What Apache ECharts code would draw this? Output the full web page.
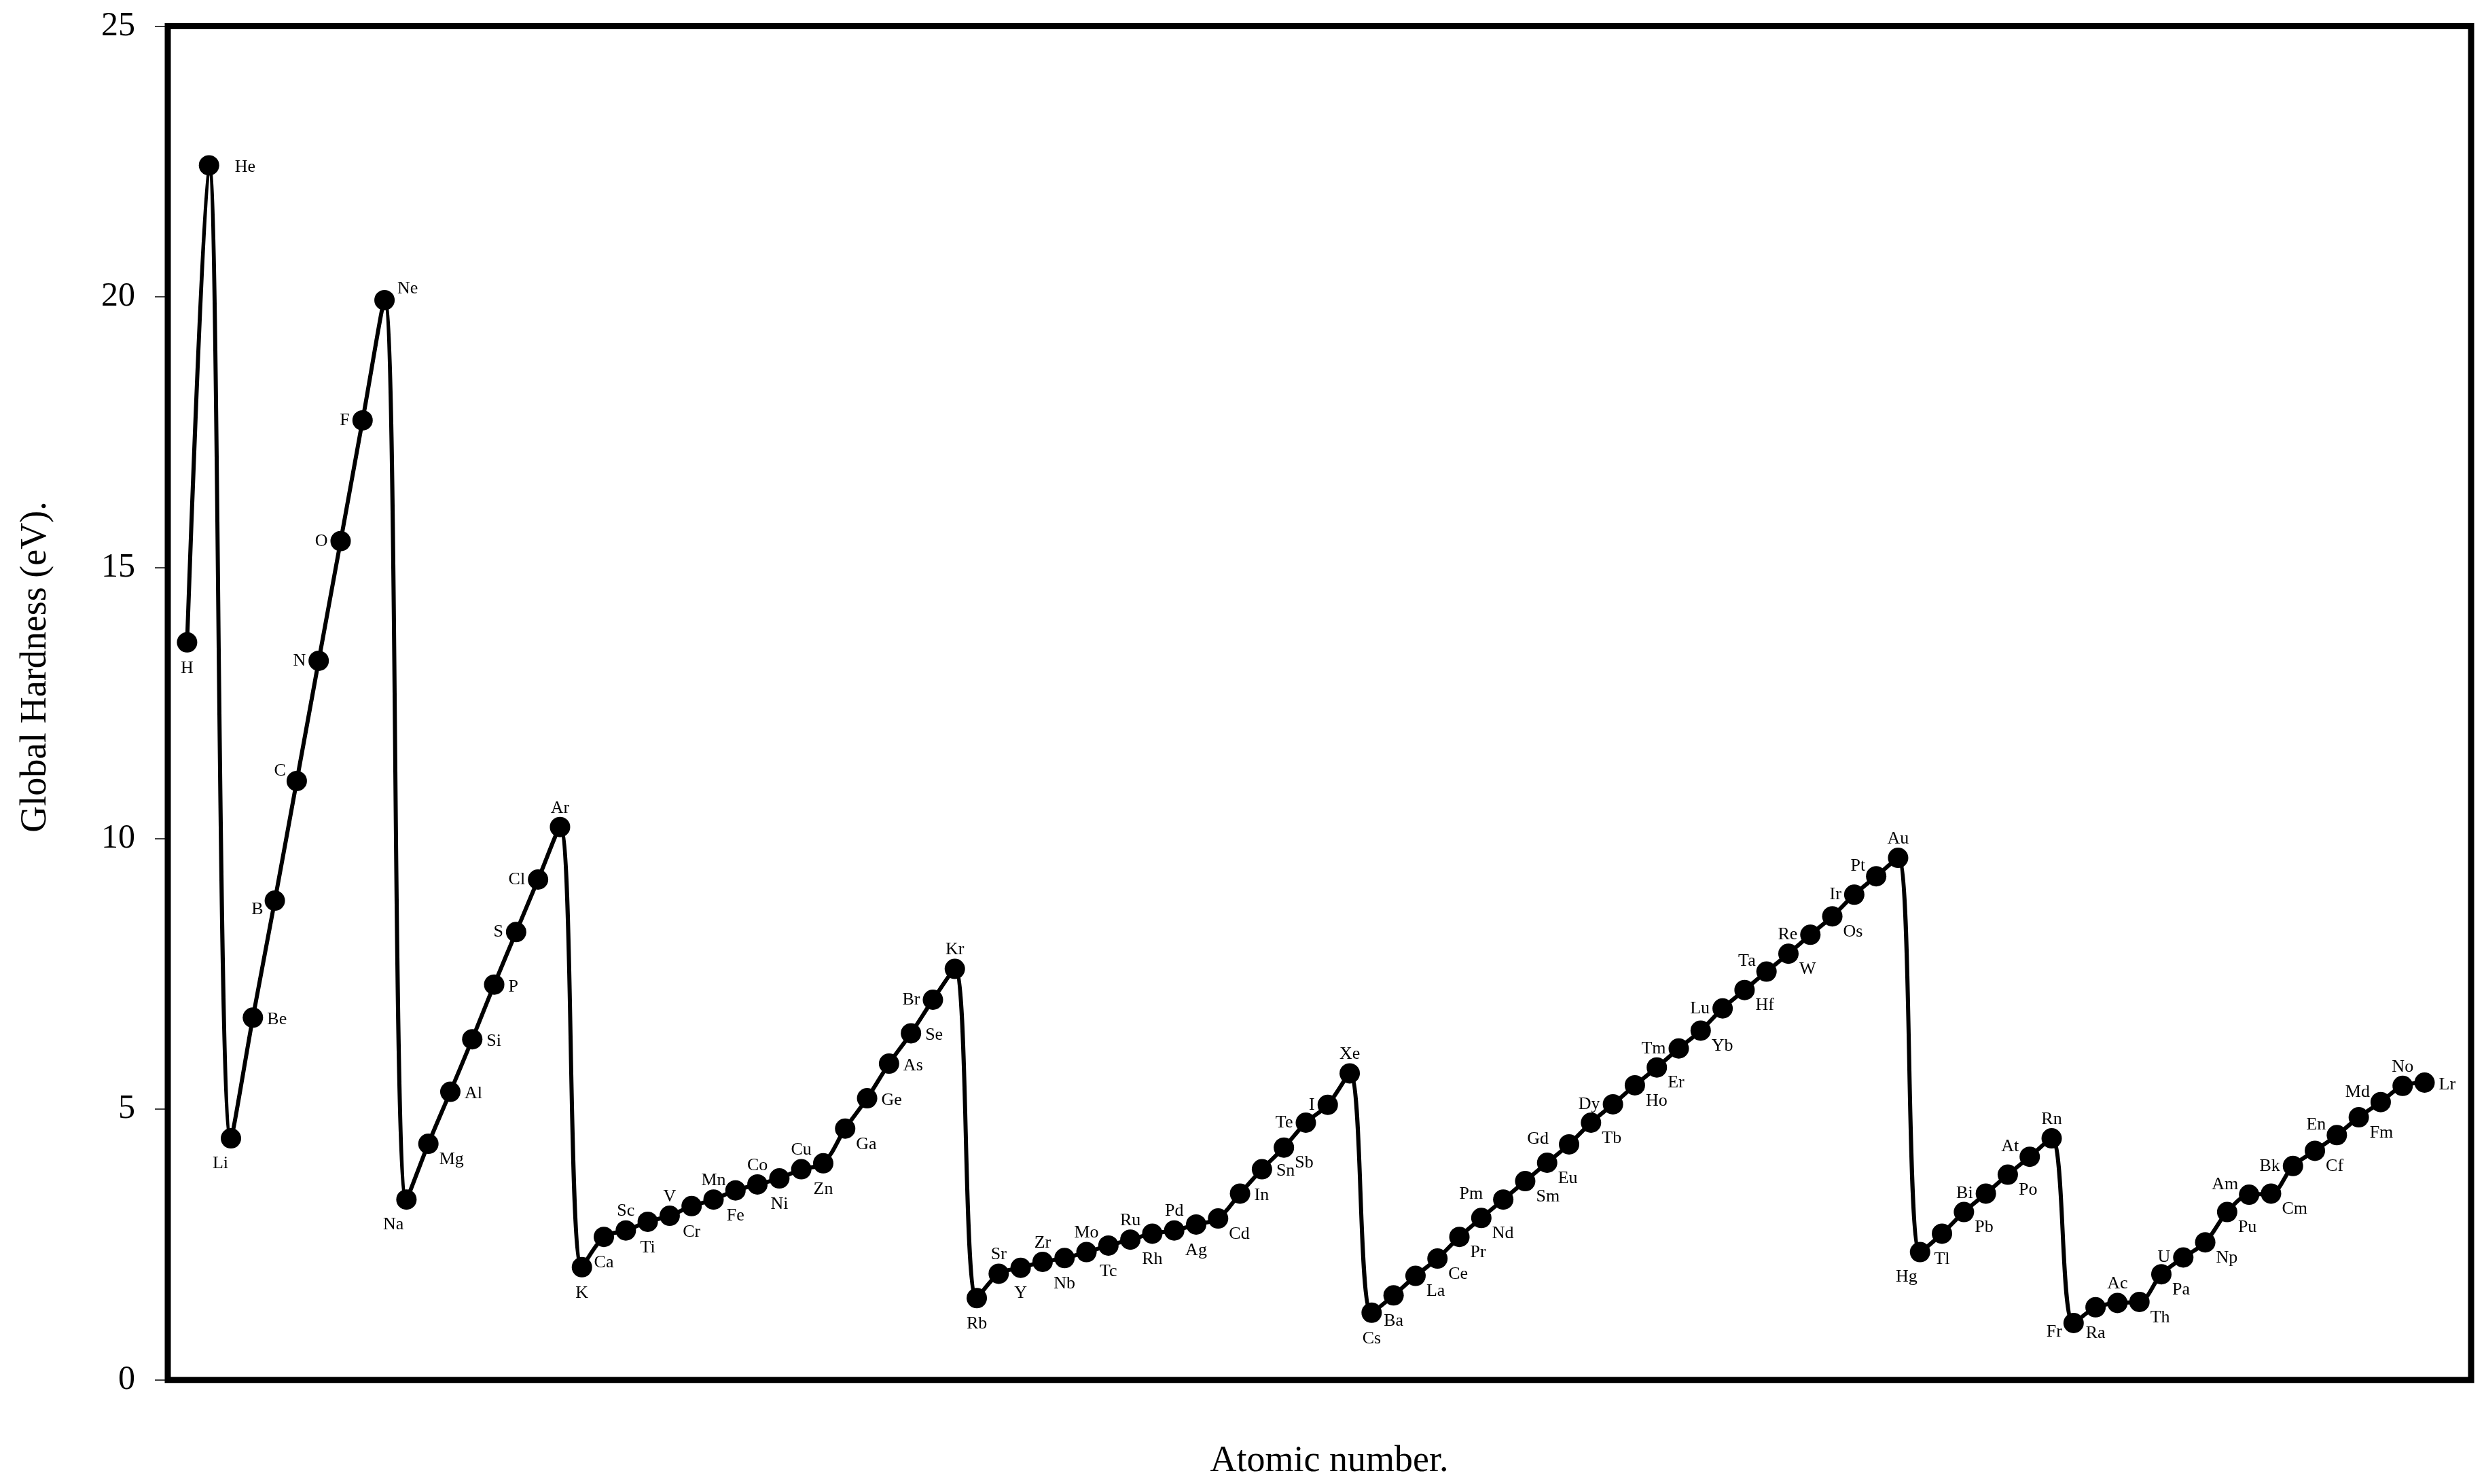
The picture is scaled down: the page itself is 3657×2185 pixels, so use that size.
<!DOCTYPE html>
<html>
<head>
<meta charset="utf-8">
<script src="https://cdn.jsdelivr.net/npm/echarts@6/dist/echarts.min.js"></script>
<style>
html,body{margin:0;padding:0;background:#fff;}
#chart{width:3657px;height:2185px;}
</style>
</head>
<body>
<div id="chart"></div>
<script>
// Element symbols in order of atomic number (as printed in the figure)
const symbols = ['H','He','Li','Be','B','C','N','O','F','Ne',
  'Na','Mg','Al','Si','P','S','Cl','Ar',
  'K','Ca','Sc','Ti','V','Cr','Mn','Fe','Co','Ni','Cu','Zn','Ga','Ge','As','Se','Br','Kr',
  'Rb','Sr','Y','Zr','Nb','Mo','Tc','Ru','Rh','Pd','Ag','Cd','In','Sn','Sb','Te','I','Xe',
  'Cs','Ba','La','Ce','Pr','Nd','Pm','Sm','Eu','Gd','Tb','Dy','Ho','Er','Tm','Yb','Lu',
  'Hf','Ta','W','Re','Os','Ir','Pt','Au','Hg','Tl','Pb','Bi','Po','At','Rn',
  'Fr','Ra','Ac','Th','Pa','U','Np','Pu','Am','Cm','Bk','Cf','En','Fm','Md','No','Lr'];

// Global hardness (eV)
const hardness = [13.62,22.43,4.46,6.69,8.85,11.06,13.28,15.49,17.72,19.94,
  3.33,4.36,5.32,6.29,7.30,8.27,9.24,10.21,
  2.08,2.64,2.76,2.92,3.03,3.21,3.33,3.50,3.61,3.72,3.89,4.00,4.64,5.20,5.84,6.40,7.02,7.59,
  1.51,1.96,2.07,2.18,2.25,2.36,2.48,2.59,2.70,2.76,2.87,2.98,3.44,3.89,4.29,4.75,5.08,5.66,
  1.24,1.56,1.92,2.24,2.64,2.99,3.33,3.67,4.01,4.35,4.75,5.09,5.44,5.77,6.12,6.45,6.86,
  7.20,7.54,7.87,8.22,8.56,8.96,9.30,9.64,2.36,2.70,3.10,3.44,3.79,4.12,4.46,
  1.05,1.34,1.42,1.44,1.95,2.26,2.54,3.10,3.42,3.44,3.95,4.23,4.52,4.85,5.13,5.43,5.49];

// Y axis ticks
const yTicks = [0, 5, 10, 15, 20, 25];

// Which side of its marker each element label sits on (styling only)
const labelSide = {
  H:'b', He:'R', Li:'bl', Be:'r', B:'lb', C:'al', N:'l', O:'l', F:'l', Ne:'ar',
  Na:'bl', Mg:'br', Al:'r', Si:'r', P:'r', S:'l', Cl:'l', Ar:'a',
  K:'b', Ca:'b', Sc:'a', Ti:'b', V:'a', Cr:'b', Mn:'a', Fe:'b', Co:'a', Ni:'b', Cu:'a', Zn:'b',
  Ga:'br', Ge:'r', As:'r', Se:'r', Br:'l', Kr:'a',
  Rb:'b', Sr:'a', Y:'b', Zr:'a', Nb:'b', Mo:'a', Tc:'b', Ru:'a', Rh:'b', Pd:'a', Ag:'b', Cd:'br',
  In:'r', Sn:'r', Sb:'br', Te:'l', I:'l', Xe:'a',
  Cs:'b', Ba:'b', La:'br', Ce:'br', Pr:'br', Nd:'br', Pm:'L', Sm:'br', Eu:'br', Gd:'L', Tb:'br',
  Dy:'l', Ho:'br', Er:'br', Tm:'l', Yb:'br', Lu:'l', Hf:'br', Ta:'al', W:'br', Re:'l', Os:'br',
  Ir:'l', Pt:'al', Au:'a', Hg:'bl', Tl:'b', Pb:'br', Bi:'l', Po:'br', At:'al', Rn:'a',
  Fr:'lb', Ra:'b', Ac:'a', Th:'br', Pa:'br', U:'l', Np:'br', Pu:'br', Am:'al', Cm:'br', Bk:'l',
  Cf:'br', En:'al', Fm:'br', Md:'al', No:'a', Lr:'r'
};

// label anchor (relative to marker centre) and text alignment for each side code
const SIDE_STYLE = {
  a:  {align:'center', verticalAlign:'bottom', d:[0,-15]},
  b:  {align:'center', verticalAlign:'top',    d:[0,25]},
  l:  {align:'right',  verticalAlign:'middle', d:[-19,0]},
  L:  {align:'right',  verticalAlign:'middle', d:[-30,-8]},
  r:  {align:'left',   verticalAlign:'middle', d:[21,3]},
  R:  {align:'left',   verticalAlign:'middle', d:[38,3]},
  br: {align:'left',   verticalAlign:'top',    d:[16,10]},
  bl: {align:'right',  verticalAlign:'top',    d:[-4,24]},
  lb: {align:'right',  verticalAlign:'top',    d:[-17,0]},
  al: {align:'right',  verticalAlign:'bottom', d:[-16,-2]},
  ar: {align:'left',   verticalAlign:'bottom', d:[19,-4]}
};

const FONT = '"Liberation Serif", "Times New Roman", serif';
const SYMBOL_SIZE = 30;
const HALF = SYMBOL_SIZE / 2;

const seriesData = symbols.map((s, i) => {
  const st = SIDE_STYLE[labelSide[s] || 'a'];
  return {
    name: s,
    value: [i + 1, hardness[i]],
    label: {
      show: true, formatter: s,
      position: [HALF + st.d[0], HALF + st.d[1]],
      align: st.align, verticalAlign: st.verticalAlign,
      color: '#000', fontFamily: FONT, fontSize: 26
    }
  };
});

const chart = echarts.init(document.getElementById('chart'), null, {renderer: 'canvas'});
chart.setOption({
  backgroundColor: '#fff',
  animation: false,
  grid: {
    left: 247, top: 38.5, right: 19, bottom: 153.3,
    show: true, borderColor: '#000', borderWidth: 9, backgroundColor: 'transparent'
  },
  xAxis: {
    type: 'value', min: 0.12, max: 105.12,
    axisLine: {show: false}, axisTick: {show: false}, axisLabel: {show: false},
    splitLine: {show: false}
  },
  yAxis: {
    type: 'value', min: yTicks[0], max: yTicks[yTicks.length - 1], interval: yTicks[1] - yTicks[0],
    axisLine: {show: false},
    axisTick: {show: true, inside: false, length: 19, lineStyle: {color: '#000', width: 1.5}},
    axisLabel: {show: true, margin: 48, color: '#000', fontFamily: FONT, fontSize: 50},
    splitLine: {show: false}
  },
  graphic: [
    {type: 'text', x: 53, y: 982, rotation: Math.PI / 2,
     style: {text: 'Global Hardness (eV).', font: '54px ' + FONT, fill: '#000', align: 'center', verticalAlign: 'middle'}},
    {type: 'text', x: 1957, y: 2152,
     style: {text: 'Atomic number.', font: '54px ' + FONT, fill: '#000', align: 'center', verticalAlign: 'middle'}}
  ],
  series: [{
    type: 'line',
    data: seriesData,
    smooth: 0.35,
    symbol: 'circle',
    symbolSize: SYMBOL_SIZE,
    showAllSymbol: true,
    lineStyle: {color: '#000', width: 6},
    itemStyle: {color: '#000', borderWidth: 0},
    labelLayout: {hideOverlap: false},
    z: 3
  }]
});
</script>
</body>
</html>
